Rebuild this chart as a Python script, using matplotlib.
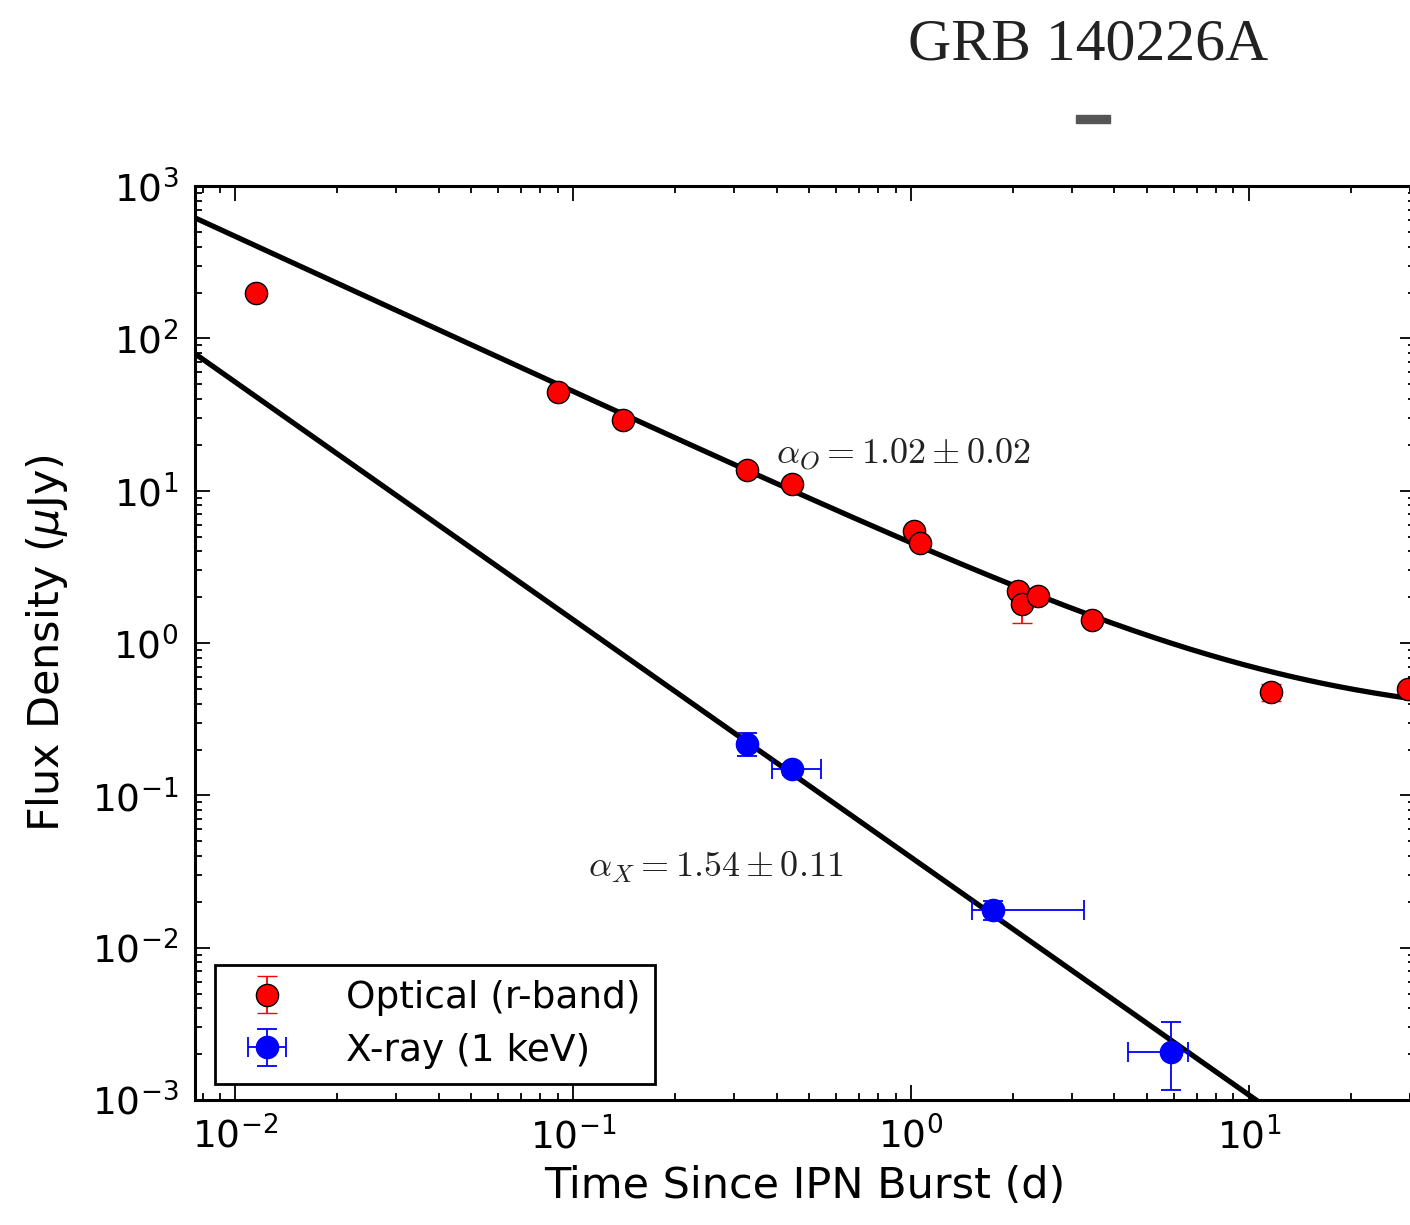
import numpy as np
import matplotlib.pyplot as plt
from matplotlib.patches import Rectangle

plt.rcParams['axes.unicode_minus'] = False

# optical r-band (days, uJy)
t_opt = [0.0115, 0.0903, 0.140, 0.327, 0.444, 1.02, 1.06, 2.07, 2.13, 2.37, 3.43, 11.6, 29.5]
f_opt = [198, 44.5, 29.1, 13.7, 11.1, 5.44, 4.54, 2.19, 1.80, 2.04, 1.42, 0.477, 0.499]
ferr_opt = [5, 1.0, 0.7, 0.4, 0.3, 0.15, 0.12, 0.08, 0.45, 0.08, 0.05, 0.06, 0.03]

# x-ray 1 keV
t_x = [0.327, 0.444, 1.75, 5.88]
t_x_lo = [0.0, 0.056, 0.23, 1.49]
t_x_hi = [0.0, 0.098, 1.50, 0.72]
f_x = [0.217, 0.149, 0.0177, 0.00206]
f_x_lo = [0.035, 0.012, 0.0025, 0.0009]
f_x_hi = [0.04, 0.012, 0.0025, 0.0012]

x_ticks = [1e-2, 1e-1, 1, 10]
y_ticks = [1e-3, 1e-2, 1e-1, 1, 10, 100, 1000]

# fitted models
amp_o, alpha_o, host = 4.26, 1.02, 0.30
amp_x, alpha_x = 0.0392, 1.56

def model_opt(t):
    return amp_o * t**(-alpha_o) + host

def model_x(t):
    return amp_x * t**(-alpha_x)

fig = plt.figure(figsize=(14.1, 12.25), dpi=100)
ax = fig.add_axes([0.1383, 0.102, 0.8652, 0.7461])

tt = np.logspace(np.log10(0.007), np.log10(35), 400)
ax.plot(tt, model_opt(tt), 'k-', lw=3.8, zorder=2)
ax.plot(tt, model_x(tt), 'k-', lw=3.8, zorder=2)

ax.errorbar(t_opt, f_opt, yerr=ferr_opt, fmt='o', color='red', mfc='red', mec='black',
            mew=1.0, ms=16, capsize=7, elinewidth=1.3, capthick=1.3, zorder=3,
            label='Optical (r-band)')
ax.errorbar(t_x, f_x, xerr=[t_x_lo, t_x_hi], yerr=[f_x_lo, f_x_hi], fmt='o', color='blue',
            mfc='blue', mec='blue', ms=16, capsize=7, elinewidth=1.3, capthick=1.3,
            zorder=3, label='X-ray (1 keV)')

ax.set_xscale('log')
ax.set_yscale('log')
ax.set_xticks(x_ticks)
ax.set_yticks(y_ticks)
ax.set_xlim(0.0076, 31.0)
ax.set_ylim(1e-3, 1e3)

ax.tick_params(which='both', direction='in', top=True, right=True, labelsize=27, width=1.3)
ax.tick_params(which='major', length=11, pad=12)
ax.tick_params(which='minor', length=5)
for s in ax.spines.values():
    s.set_linewidth(2.2)

ax.set_xlabel('Time Since IPN Burst (d)', fontsize=31, labelpad=6)
ax.set_ylabel(r'Flux Density ($\mu$Jy)', fontsize=31, labelpad=16)

ax.text(0.398, 13.0, r'$\alpha_O = 1.02 \pm 0.02$', fontsize=26, color='#222222',
        ha='left', va='bottom', math_fontfamily='cm')
ax.text(0.111, 0.026, r'$\alpha_X = 1.54 \pm 0.11$', fontsize=26, color='#222222',
        ha='left', va='bottom', math_fontfamily='cm')

leg = ax.legend(loc='lower left', fontsize=27, numpoints=1, fancybox=False,
                edgecolor='black', framealpha=1, borderpad=0.4, handletextpad=1.1,
                labelspacing=0.45, borderaxespad=0, bbox_to_anchor=(0.016, 0.018))
leg.get_frame().set_linewidth(2.0)

fig.text(0.772, 0.963, 'GRB 140226A', fontsize=43, family='Liberation Serif',
         color='#222222', ha='center', va='center')
fig.patches.append(Rectangle((0.763, 0.9), 0.024, 0.006, transform=fig.transFigure,
                             color='#555555', figure=fig))

fig.savefig('out.png', dpi=100)
